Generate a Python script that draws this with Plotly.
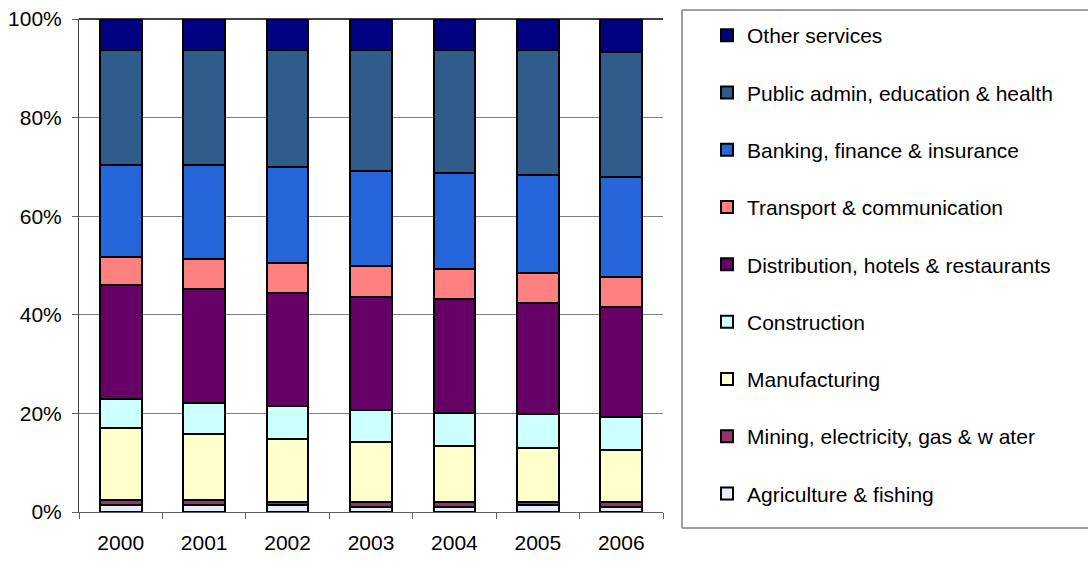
import plotly.graph_objects as go

years = ["2000", "2001", "2002", "2003", "2004", "2005", "2006"]

agriculture = [1.5, 1.5, 1.4, 1.1, 1.1, 1.4, 1.1]
mining = [1.0, 1.0, 0.7, 1.0, 1.0, 0.7, 1.0]
manufacturing = [14.5, 13.3, 12.8, 12.0, 11.2, 10.8, 10.4]
construction = [6.0, 6.4, 6.6, 6.5, 6.8, 6.9, 6.8]
distribution = [23.1, 23.1, 23.0, 23.0, 23.1, 22.6, 22.3]
transport = [5.7, 6.1, 6.1, 6.2, 6.1, 6.1, 6.1]
banking = [18.6, 19.0, 19.4, 19.4, 19.4, 19.8, 20.2]
public_admin = [23.3, 23.3, 23.7, 24.5, 25.0, 25.4, 25.4]
other_services = [6.3, 6.3, 6.3, 6.3, 6.3, 6.3, 6.7]

series = [
    ("Agriculture & fishing", agriculture, "#E8ECFF"),
    ("Mining, electricity, gas & w ater", mining, "#993366"),
    ("Manufacturing", manufacturing, "#FFFFCC"),
    ("Construction", construction, "#CCFFFF"),
    ("Distribution, hotels & restaurants", distribution, "#660066"),
    ("Transport & communication", transport, "#FF8080"),
    ("Banking, finance & insurance", banking, "#2466D9"),
    ("Public admin, education & health", public_admin, "#2F5C8A"),
    ("Other services", other_services, "#000080"),
]

y_ticks = [0, 20, 40, 60, 80, 100]
y_tick_labels = ["0%", "20%", "40%", "60%", "80%", "100%"]

FONT = "Liberation Sans, Arial, sans-serif"

fig = go.Figure()
n = len(series)
for i, (name, vals, color) in enumerate(series):
    fig.add_trace(go.Bar(
        x=years, y=vals, name=name, legendgroup=name, legendrank=n - i,
        marker=dict(color=color, line=dict(color="#000000", width=2)),
    ))

W, H = 1088, 561
L, R, T, B = 79, 425, 19, 49
pw = W - L - R
ph = H - T - B

def px_x(p):
    return (p - L) / pw

def px_y(p):
    return (H - B - p) / ph

box_line = dict(color="#808080", width=1.5)
bx0, bx1, by0, by1 = px_x(682), px_x(1100), px_y(528), px_y(10)

fig.update_layout(
    width=W, height=H,
    margin=dict(l=L, r=R, t=T, b=B, pad=0, autoexpand=False),
    barmode="stack", barnorm="percent", bargap=0.5,
    paper_bgcolor="white", plot_bgcolor="white",
    font=dict(family=FONT, size=21, color="#000000"),
    showlegend=True,
    legend=dict(
        x=px_x(707), y=px_y(15), xanchor="left", yanchor="top",
        traceorder="grouped", tracegroupgap=27, maxheight=560,
        font=dict(family=FONT, size=21, color="#000000"),
        bgcolor="rgba(0,0,0,0)", borderwidth=0,
    ),
    xaxis=dict(
        type="category", showgrid=False, showline=True, linecolor="#606060",
        linewidth=1, ticks="outside", tickson="boundaries", ticklen=6,
        tickcolor="#606060", ticklabelstandoff=12, automargin=False,
        tickfont=dict(family=FONT, size=21, color="#000000"),
    ),
    yaxis=dict(
        range=[0, 100], tickvals=y_ticks, ticktext=y_tick_labels,
        showgrid=True, gridcolor="#808080", gridwidth=1,
        showline=True, linecolor="#404040", linewidth=1,
        ticks="outside", ticklen=6, tickcolor="#606060",
        ticklabelstandoff=6, zeroline=False, automargin=False,
        tickfont=dict(family=FONT, size=21, color="#000000"),
    ),
    shapes=[
        dict(type="line", xref="paper", yref="paper", x0=0, x1=1, y0=1, y1=1,
             line=dict(color="#000000", width=1.5)),
        dict(type="line", xref="paper", yref="paper", x0=bx0, x1=bx1, y0=by1, y1=by1, line=box_line),
        dict(type="line", xref="paper", yref="paper", x0=bx0, x1=bx1, y0=by0, y1=by0, line=box_line),
        dict(type="line", xref="paper", yref="paper", x0=bx0, x1=bx0, y0=by0, y1=by1, line=box_line),
    ],
)

fig.write_html(
    "out.html",
    config={"displayModeBar": False},
    post_script="document.body.style.margin='0';document.body.style.overflow='hidden';",
)
